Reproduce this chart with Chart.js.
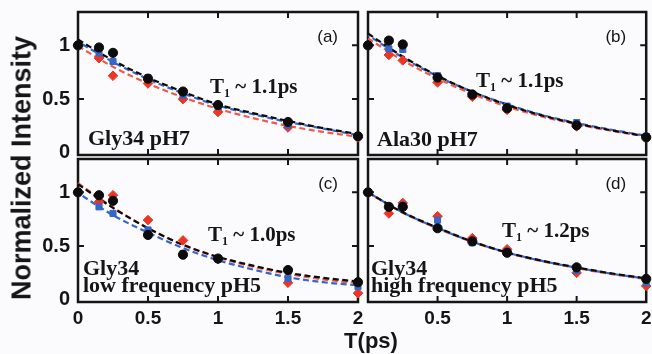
<!DOCTYPE html>
<html>
<head>
<meta charset="utf-8">
<script src="https://cdn.jsdelivr.net/npm/chart.js@4.4.1/dist/chart.umd.min.js"></script>
<style>
  html, body { margin: 0; padding: 0; background: #fbfbfd; }
  #wrap { position: relative; width: 652px; height: 354px; overflow: hidden; }
  #wrap canvas { position: absolute; left: 0; top: 0; }
  .axis-title { position: absolute; font-family: "Liberation Sans", Arial, sans-serif; font-weight: bold; color: #151515; white-space: nowrap; }
  #ytitle { left: 22px; top: 168px; font-size: 27px; transform: translate(-50%, -50%) rotate(-90deg); }
  #xtitle { left: 371px; top: 341px; font-size: 22px; transform: translate(-50%, -50%); }
</style>
</head>
<body>
<div id="wrap">
  <canvas id="pa" width="652" height="354"></canvas>
  <canvas id="pb" width="652" height="354"></canvas>
  <canvas id="pc" width="652" height="354"></canvas>
  <canvas id="pd" width="652" height="354"></canvas>
  <div class="axis-title" id="ytitle">Normalized Intensity</div>
  <div class="axis-title" id="xtitle">T(ps)</div>
</div>
<script>
// delay times of the measured points and of the fit curves (ps)
const times = [0, 0.15, 0.25, 0.5, 0.75, 1, 1.5, 2];
const fitTimes = [0, 0.25, 0.5, 0.75, 1, 1.25, 1.5, 1.75, 2];
const xTickValues = [0, 0.5, 1, 1.5, 2];
const yTickValues = [0, 0.5, 1];

// (a) Gly34 pH7
const aBlack = [1.0, 0.98, 0.93, 0.69, 0.57, 0.445, 0.287, 0.154];
const aRed = [1.0, 0.88, 0.717, 0.645, 0.50, 0.38, 0.236, 0.144];
const aBlue = [1.0, 0.93, 0.85, 0.70, 0.537, 0.43, 0.256, 0.154];
const aFitBlack = [1.054, 0.86, 0.70, 0.568, 0.45, 0.369, 0.297, 0.23, 0.174];
const aFitRed = [0.993, 0.80, 0.645, 0.517, 0.41, 0.323, 0.251, 0.195, 0.149];
const aFitBlue = [1.034, 0.845, 0.686, 0.553, 0.44, 0.359, 0.287, 0.226, 0.164];

// (b) Ala30 pH7
const bBlack = [1.0, 1.044, 1.008, 0.70, 0.543, 0.415, 0.256, 0.144];
const bRed = [1.0, 0.91, 0.86, 0.655, 0.522, 0.40, 0.246, 0.144];
const bBlue = [1.0, 0.967, 0.962, 0.717, 0.543, 0.435, 0.282, 0.154];
const bFitBlack = [1.11, 0.896, 0.717, 0.568, 0.446, 0.348, 0.272, 0.21, 0.154];
const bFitRed = [1.065, 0.86, 0.691, 0.548, 0.43, 0.338, 0.266, 0.205, 0.154];
const bFitBlue = [1.095, 0.886, 0.712, 0.568, 0.451, 0.353, 0.277, 0.215, 0.159];

// (c) Gly34 low frequency pH5
const cBlack = [1.0, 0.973, 0.921, 0.604, 0.42, 0.384, 0.277, 0.164];
const cRed = [1.0, 0.911, 0.973, 0.742, 0.553, 0.379, 0.159, 0.062];
const cBlue = [1.0, 0.865, 0.804, 0.65, 0.43, 0.379, 0.20, 0.123];
const cFitBlack = [1.075, 0.855, 0.666, 0.512, 0.40, 0.318, 0.251, 0.205, 0.17];
const cFitRed = [1.085, 0.86, 0.666, 0.512, 0.395, 0.308, 0.241, 0.19, 0.154];
const cFitBlue = [0.993, 0.788, 0.625, 0.482, 0.369, 0.282, 0.21, 0.164, 0.134];

// (d) Gly34 high frequency pH5
const dBlack = [1.0, 0.865, 0.865, 0.666, 0.543, 0.438, 0.302, 0.195];
const dRed = [1.0, 0.804, 0.901, 0.778, 0.574, 0.471, 0.251, 0.129];
const dBlue = [1.0, 0.865, 0.88, 0.742, 0.533, 0.451, 0.272, 0.159];
const dFitBlack = [1.0, 0.814, 0.671, 0.543, 0.441, 0.364, 0.302, 0.246, 0.20];
const dFitRed = [0.997, 0.81, 0.665, 0.538, 0.437, 0.359, 0.296, 0.24, 0.194];
const dFitBlue = [1.0, 0.812, 0.668, 0.541, 0.44, 0.362, 0.299, 0.243, 0.197];

const RED = "#ee3524";
const RED_LINE = "#f25a48";
const BLUE = "#3566c8";
const BLACK = "#0c0c0c";
const INK = "#151515";

const panels = [
  { id: "pa", tag: "(a)", t1: "1.1", lines: ["Gly34 pH7"],
    black: aBlack, red: aRed, blue: aBlue, fitBlack: aFitBlack, fitRed: aFitRed, fitBlue: aFitBlue,
    area: { left: 78, top: 12, right: 358, bottom: 155 }, yLabels: true, xLabels: false,
    t1Pos: [132, 81], linePos: [10, 133] },
  { id: "pb", tag: "(b)", t1: "1.1", lines: ["Ala30 pH7"],
    black: bBlack, red: bRed, blue: bBlue, fitBlack: bFitBlack, fitRed: bFitRed, fitBlue: bFitBlue,
    area: { left: 368, top: 12, right: 647, bottom: 155 }, yLabels: false, xLabels: false,
    t1Pos: [108, 75], linePos: [9, 134] },
  { id: "pc", tag: "(c)", t1: "1.0", lines: ["Gly34", "low frequency pH5"],
    black: cBlack, red: cRed, blue: cBlue, fitBlack: cFitBlack, fitRed: cFitRed, fitBlue: cFitBlue,
    area: { left: 78, top: 159, right: 358, bottom: 302 }, yLabels: true, xLabels: true,
    t1Pos: [130, 82], linePos: [5, 116] },
  { id: "pd", tag: "(d)", t1: "1.2", lines: ["Gly34", "high frequency pH5"],
    black: dBlack, red: dRed, blue: dBlue, fitBlack: dFitBlack, fitRed: dFitRed, fitBlue: dFitBlue,
    area: { left: 368, top: 159, right: 647, bottom: 302 }, yLabels: false, xLabels: true, hideZero: true,
    t1Pos: [134, 78], linePos: [3, 116] },
];

const framePlugin = {
  id: "frame",
  beforeDatasetsDraw(chart) {
    const { ctx, chartArea: a, scales: { x, y } } = chart;
    ctx.save();
    ctx.strokeStyle = INK;
    ctx.lineWidth = 2.5;
    ctx.strokeRect(a.left, a.top, a.right - a.left, a.bottom - a.top);
    ctx.lineWidth = 2;
    ctx.beginPath();
    x.ticks.forEach((t) => {
      if (t.value <= x.min || t.value >= x.max) return;
      const px = x.getPixelForValue(t.value);
      ctx.moveTo(px, a.bottom);
      ctx.lineTo(px, a.bottom - 6);
      ctx.moveTo(px, a.top);
      ctx.lineTo(px, a.top + 6);
    });
    y.ticks.forEach((t) => {
      if (t.value <= 0 || t.value >= y.max) return;
      const py = y.getPixelForValue(t.value);
      ctx.moveTo(a.left, py);
      ctx.lineTo(a.left + 6, py);
      ctx.moveTo(a.right, py);
      ctx.lineTo(a.right - 6, py);
    });
    ctx.stroke();
    ctx.restore();
  },
  afterDatasetsDraw(chart, args, opts) {
    const { ctx, chartArea: a } = chart;
    ctx.save();
    ctx.fillStyle = INK;
    ctx.font = '17px "Liberation Sans", Arial, sans-serif';
    ctx.textAlign = "right";
    ctx.textBaseline = "middle";
    ctx.fillText(opts.tag, a.right - 20, a.top + 25);

    ctx.textAlign = "left";
    ctx.textBaseline = "alphabetic";
    const big = 'bold 21px "Liberation Serif", "Times New Roman", serif';
    const small = 'bold 12px "Liberation Serif", "Times New Roman", serif';
    let x0 = a.left + opts.t1Pos[0];
    const y0 = a.top + opts.t1Pos[1];
    ctx.font = big;
    ctx.fillText("T", x0, y0);
    x0 += ctx.measureText("T").width;
    ctx.font = small;
    ctx.fillText("1", x0, y0 + 4);
    x0 += ctx.measureText("1").width;
    ctx.font = big;
    ctx.fillText(" ~ " + opts.t1 + "ps", x0, y0);

    ctx.font = 'bold 22px "Liberation Serif", "Times New Roman", serif';
    opts.lines.forEach((line, i) => {
      ctx.fillText(line, a.left + opts.linePos[0], a.top + opts.linePos[1] + i * 17);
    });
    ctx.restore();
  },
};

function fitDataset(ys, color, dashOffset) {
  return {
    data: ys.map((y, i) => ({ x: fitTimes[i], y })),
    showLine: true,
    borderColor: color,
    borderWidth: 2.2,
    borderDash: [6, 3.5],
    borderDashOffset: dashOffset,
    cubicInterpolationMode: "monotone",
    pointRadius: 0,
    fill: false,
    clip: false,
  };
}

function pointDataset(ys, color, style, radius) {
  return {
    data: ys.map((y, i) => ({ x: times[i], y })),
    showLine: false,
    pointStyle: style,
    pointRadius: radius,
    backgroundColor: color,
    borderColor: color,
    borderWidth: 1,
    clip: false,
  };
}

function makePanel(p) {
  const ctx = document.getElementById(p.id).getContext("2d");
  const yWidth = p.yLabels ? p.area.left : 0;
  const xHeight = p.xLabels ? 30 : 0;
  const zeroPad = (s) => { s.paddingTop = 0; s.paddingBottom = 0; s.paddingLeft = 0; s.paddingRight = 0; };
  return new Chart(ctx, {
    type: "scatter",
    data: {
      datasets: [
        pointDataset(p.black, BLACK, "circle", 4.6),
        pointDataset(p.blue, BLUE, "rect", 4.3),
        pointDataset(p.red, RED, "rectRot", 4.8),
        fitDataset(p.fitBlack, BLACK, 0),
        fitDataset(p.fitBlue, BLUE, 4),
        fitDataset(p.fitRed, RED_LINE, 0),
      ],
    },
    options: {
      responsive: false,
      animation: false,
      events: [],
      layout: {
        padding: {
          left: p.area.left - yWidth,
          right: 652 - p.area.right,
          top: p.area.top,
          bottom: 354 - p.area.bottom - xHeight,
        },
      },
      plugins: {
        legend: { display: false },
        tooltip: { enabled: false },
        frame: { tag: p.tag, t1: p.t1, lines: p.lines, t1Pos: p.t1Pos, linePos: p.linePos },
      },
      scales: {
        x: {
          type: "linear",
          min: 0,
          max: 2,
          afterBuildTicks: (s) => { s.ticks = xTickValues.map((v) => ({ value: v })); },
          afterFit: (s) => { s.height = xHeight; zeroPad(s); },
          grid: { display: false, drawTicks: false },
          border: { display: false },
          ticks: {
            display: p.xLabels,
            padding: 5,
            color: INK,
            font: { family: '"Liberation Sans", Arial, sans-serif', size: 19, weight: "bold" },
            callback: (v) => (p.hideZero && v === 0 ? "" : String(v)),
          },
        },
        y: {
          type: "linear",
          min: -0.02,
          max: 1.31,
          afterBuildTicks: (s) => { s.ticks = yTickValues.map((v) => ({ value: v })); },
          afterFit: (s) => { s.width = yWidth; zeroPad(s); },
          grid: { display: false, drawTicks: false },
          border: { display: false },
          ticks: {
            display: p.yLabels,
            padding: 8,
            color: INK,
            font: { family: '"Liberation Sans", Arial, sans-serif', size: 20, weight: "bold" },
            callback: (v) => String(v),
          },
        },
      },
    },
    plugins: [framePlugin],
  });
}

panels.forEach(makePanel);
</script>
</body>
</html>
